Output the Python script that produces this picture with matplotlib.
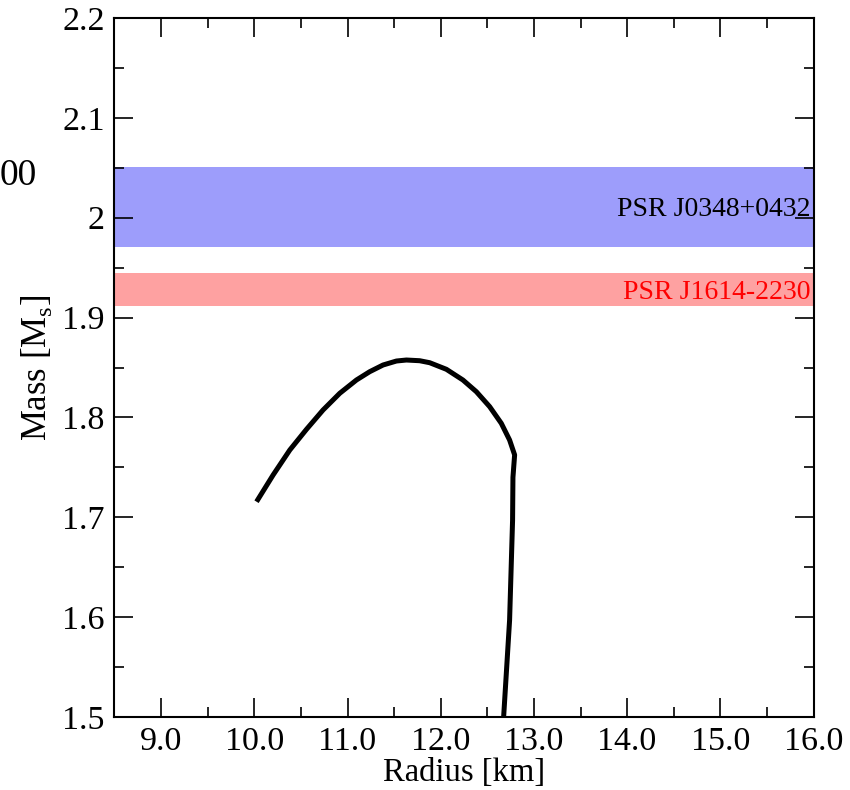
import numpy as np
import matplotlib
matplotlib.use('Agg')
import matplotlib.pyplot as plt
from matplotlib.ticker import MultipleLocator, FormatStrFormatter, FuncFormatter

plt.rcParams['font.family'] = ['Liberation Serif', 'DejaVu Serif']
plt.rcParams['mathtext.fontset'] = 'custom'
plt.rcParams['mathtext.rm'] = 'Liberation Serif'

# mass-radius curve
radius = [12.675, 12.739, 12.771, 12.775, 12.793, 12.739, 12.650, 12.525, 12.382,
          12.238, 12.061, 11.882, 11.774, 11.632, 11.525, 11.381, 11.238, 11.096,
          10.917, 10.738, 10.560, 10.381, 10.202, 10.024]
mass = [1.500, 1.597, 1.697, 1.740, 1.7625, 1.7774, 1.7941, 1.8108, 1.8258,
        1.8375, 1.8482, 1.8548, 1.8568, 1.8575, 1.8565, 1.8525, 1.8458, 1.8375,
        1.8242, 1.8075, 1.7881, 1.7674, 1.7424, 1.7156]

# observed pulsar mass bands (low, high)
psr_names = ['PSR J0348+0432', 'PSR J1614-2230']
psr_low = [1.971, 1.912]
psr_high = [2.051, 1.945]
psr_fill = ['#9d9dfb', '#fea1a1']
psr_text = ['black', 'red']

fig = plt.figure(figsize=(8.5, 7.9), dpi=100)
ax = fig.add_axes([0.1347, 0.0924, 0.8224, 0.8848])

for lo, hi, fc in zip(psr_low, psr_high, psr_fill):
    ax.axhspan(lo, hi, color=fc, lw=0, zorder=1)
for name, lo, hi, tc in zip(psr_names, psr_low, psr_high, psr_text):
    ax.text(15.97, (lo + hi) / 2 - 0.003, name, color=tc, fontsize=20,
            ha='right', va='center', zorder=3)

ax.plot(radius, mass, color='black', lw=3.6, zorder=2,
        solid_capstyle='butt', solid_joinstyle='round')

ax.set_xlim(8.5, 16.0)
ax.set_ylim(1.5, 2.2)
ax.xaxis.set_major_locator(MultipleLocator(1.0))
ax.xaxis.set_minor_locator(MultipleLocator(0.5))
ax.yaxis.set_major_locator(MultipleLocator(0.1))
ax.yaxis.set_minor_locator(MultipleLocator(0.05))
ax.xaxis.set_major_formatter(FormatStrFormatter('%.1f'))
ax.yaxis.set_major_formatter(FuncFormatter(lambda v, p: '%g' % round(v, 2)))

ax.tick_params(which='both', direction='in', top=True, right=True,
               labelsize=24.5, width=1.2)
ax.tick_params(which='major', length=14, pad=7)
ax.tick_params(which='minor', length=7)
for s in ax.spines.values():
    s.set_linewidth(1.5)
    s.set_zorder(4)

ax.set_xlabel('Radius [km]', fontsize=23.5, labelpad=0)
ax.set_ylabel(r'Mass [M$_\mathrm{s}$]', fontsize=25)
ax.yaxis.set_label_coords(-0.087, 0.50)

# fragment of a neighbouring panel label at the left edge
fig.text(0.0, 0.777, '00', fontsize=27, ha='left', va='center')

plt.savefig('out.png', dpi=100)
